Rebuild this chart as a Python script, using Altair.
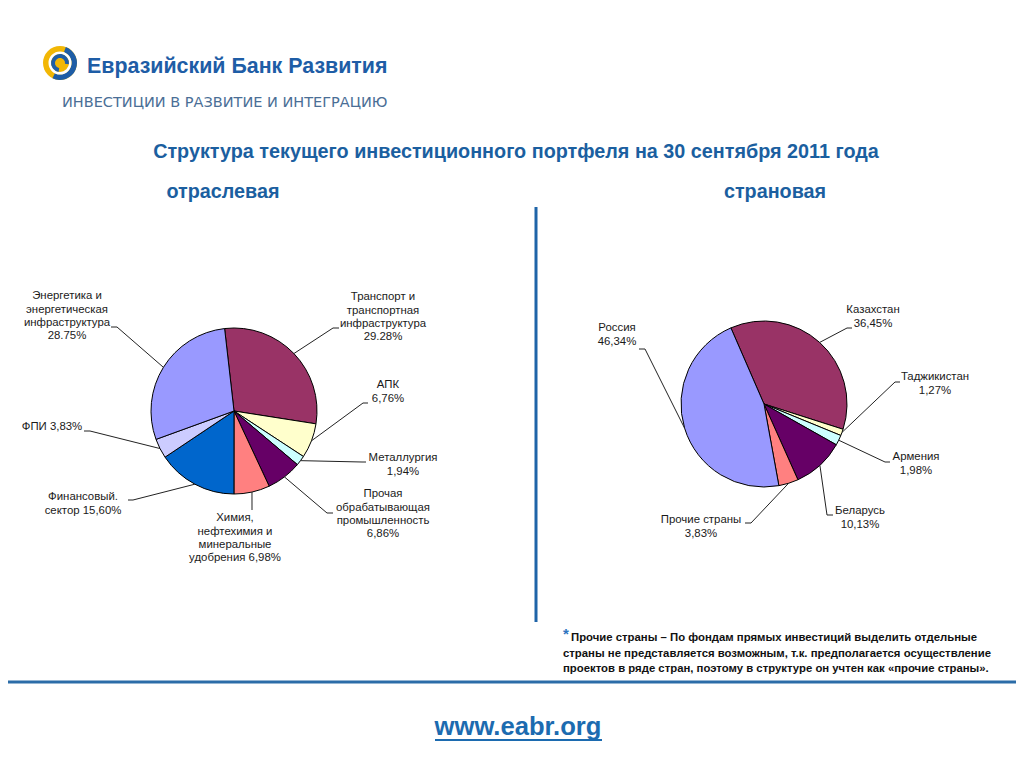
import altair as alt
import pandas as pd
import numpy as np

# ---------------- data ----------------
sector_names = [
    "Транспорт и транспортная инфраструктура", "АПК", "Металлургия",
    "Прочая обрабатывающая промышленность",
    "Химия, нефтехимия и минеральные удобрения", "Финансовый сектор",
    "ФПИ", "Энергетика и энергетическая инфраструктура",
]
sector_values = [29.28, 6.76, 1.94, 6.86, 6.98, 15.60, 3.83, 28.75]
sector_labels = [
    "Транспорт и\nтранспортная\nинфраструктура\n29.28%",
    "АПК\n6,76%",
    "Металлургия\n1,94%",
    "Прочая\nобрабатывающая\nпромышленность\n6,86%",
    "Химия,\nнефтехимия и\nминеральные\nудобрения 6,98%",
    "Финансовый.\nсектор 15,60%",
    "ФПИ 3,83%",
    "Энергетика и\nэнергетическая\nинфраструктура\n28.75%",
]

country_names = ["Казахстан", "Таджикистан", "Армения", "Беларусь", "Прочие страны", "Россия"]
country_values = [36.45, 1.27, 1.98, 10.13, 3.83, 46.34]
country_labels = [
    "Казахстан\n36,45%", "Таджикистан\n1,27%", "Армения\n1,98%",
    "Беларусь\n10,13%", "Прочие страны\n3,83%", "Россия\n46,34%",
]

logo_name = "Евразийский Банк Развития"
logo_tagline = "ИНВЕСТИЦИИ В РАЗВИТИЕ И ИНТЕГРАЦИЮ"
title_text = "Структура текущего инвестиционного портфеля на 30 сентября 2011 года"
subtitles = ["отраслевая", "страновая"]
footnote_lines = [
    "Прочие страны –  По фондам прямых инвестиций выделить  отдельные",
    "страны не представляется возможным, т.к. предполагается осуществление",
    "проектов в ряде стран, поэтому в структуре он учтен как «прочие страны».",
]
url_text = "www.eabr.org"

# ---------------- styles / layout ----------------
sector_colors = ["#993366", "#FFFFCC", "#CCFFFF", "#660066", "#FF8080", "#0066CC", "#CCCCFF", "#9999FF"]
country_colors = ["#993366", "#FFFFCC", "#CCFFFF", "#660066", "#FF8080", "#9999FF"]
BLUE = "#1B5FA0"
FONT = "Liberation Sans"
M = 8                     # page margin
W, H = 1008, 745

left_pie = dict(cx=234, cy=411, r=83, start=-6.5)
right_pie = dict(cx=764, cy=404, r=83, start=-23.5)

# label anchor: text centre x, first-line centre y, leader dash start, dash end
sector_label_pos = [
    (383, 298, (339, 328), (333, 328)),
    (388, 386, (368, 403), (363, 403)),
    (403, 459, (366, 462), (362, 462)),
    (383, 495, (333, 513), (327, 513)),
    (235, 519, (252, 510), (252, 510)),
    (83, 498, (128, 500), (133, 500)),
    (52, 428, (84, 431), (90, 431)),
    (67, 297, (111, 327), (117, 327)),
]
country_label_pos = [
    (873, 311, (852, 328), (847, 328)),
    (935, 378, (900, 382), (895, 382)),
    (916, 458, (890, 462), (885, 462)),
    (860, 512, (833, 515), (827, 515)),
    (701, 521, (745, 523), (751, 523)),
    (617, 329, (639, 349), (645, 349)),
]
LINE_H = 13.3

xs = alt.Scale(domain=[M, M + W], range=[0, W])
ys = alt.Scale(domain=[M, M + H], range=[0, H])


def X(f):
    return alt.X(f, type="quantitative", scale=xs, axis=None)


def Y(f):
    return alt.Y(f, type="quantitative", scale=ys, axis=None)


def pie(names, values, colors, p):
    df = pd.DataFrame({"name": names, "value": values, "idx": range(len(names))})
    a0 = np.radians(p["start"])
    return alt.Chart(df).mark_arc(radius=p["r"], stroke="black", strokeWidth=1).encode(
        theta=alt.Theta("value:Q", stack=True,
                        scale=alt.Scale(domain=[0, 100], range=[a0, a0 + 2 * np.pi])),
        color=alt.Color("name:N", scale=alt.Scale(domain=names, range=colors), legend=None),
        order=alt.Order("idx:Q"),
        x=alt.value(p["cx"] - M),
        y=alt.value(p["cy"] - M),
    )


def leaders(values, pos, p):
    vals = np.array(values, dtype=float)
    mid = np.cumsum(vals) - vals / 2
    ang = np.radians(p["start"] + mid / 100 * 360)
    ex = p["cx"] + p["r"] * np.sin(ang)
    ey = p["cy"] - p["r"] * np.cos(ang)
    rows = []
    for i, (_, _, d0, d1) in enumerate(pos):
        rows.append(dict(x=d0[0], y=d0[1], x2=d1[0], y2=d1[1]))
        rows.append(dict(x=d1[0], y=d1[1], x2=float(ex[i]), y2=float(ey[i])))
    return rows


def label_rows(labels, pos):
    rows = []
    for lab, (tx, ty, _, _) in zip(labels, pos):
        rows.append(dict(x=tx, y=ty - 6.7, text=lab))
    return rows


seg_df = pd.DataFrame(leaders(sector_values, sector_label_pos, left_pie) +
                      leaders(country_values, country_label_pos, right_pie))
lab_df = pd.DataFrame(label_rows(sector_labels, sector_label_pos) +
                      label_rows(country_labels, country_label_pos))

leader_layer = alt.Chart(seg_df).mark_rule(color="#222222", strokeWidth=1).encode(
    x=X("x"), y=Y("y"), x2="x2", y2="y2")
label_layer = alt.Chart(lab_df).mark_text(
    font=FONT, fontSize=11.4, color="#1a1a1a", align="center", baseline="top",
    lineBreak="\n", lineHeight=LINE_H).encode(x=X("x"), y=Y("y"), text="text:N")

# headings
head_df = pd.DataFrame({"x": [516, 223, 775], "y": [152, 192, 192],
                        "text": [title_text] + subtitles})
head_layer = alt.Chart(head_df).mark_text(
    font=FONT, fontSize=19.8, fontWeight="bold", color=BLUE, align="center",
    baseline="middle").encode(x=X("x"), y=Y("y"), text="text:N")

logo_df = pd.DataFrame({"x": [87], "y": [67], "text": [logo_name]})
logo_layer = alt.Chart(logo_df).mark_text(
    font=FONT, fontSize=21.4, fontWeight="bold", color="#1E5DA6", align="left",
    baseline="middle").encode(x=X("x"), y=Y("y"), text="text:N")

tag_df = pd.DataFrame({"x": [62], "y": [103], "text": [logo_tagline]})
tag_layer = alt.Chart(tag_df).mark_text(
    font="DejaVu Sans", fontSize=14.5, color="#4A6E96", align="left",
    baseline="middle").encode(x=X("x"), y=Y("y"), text="text:N")

# logo swirl
LX, LY = 60 - M, 63 - M
one = pd.DataFrame({"a": [0]})
swirl = [
    alt.Chart(one).mark_arc(radius=17, theta=0, theta2=2 * np.pi, color="#F2B705").encode(x=alt.value(LX), y=alt.value(LY)),
    alt.Chart(one).mark_arc(radius=17, radius2=11.5, theta=0.35, theta2=3.6, color="#1E5DA6").encode(x=alt.value(LX), y=alt.value(LY)),
    alt.Chart(one).mark_arc(radius=11.5, radius2=9, theta=0, theta2=2 * np.pi, color="#FFFFFF").encode(x=alt.value(LX), y=alt.value(LY)),
    alt.Chart(one).mark_arc(radius=9, radius2=5, theta=3.3, theta2=8.0, color="#1E5DA6").encode(x=alt.value(LX), y=alt.value(LY)),
    alt.Chart(one).mark_arc(radius=4.5, theta=0, theta2=2 * np.pi, color="#F2B705").encode(x=alt.value(LX), y=alt.value(LY)),
]

# divider lines
vline = alt.Chart(one).mark_rule(color="#1F64A8", strokeWidth=3).encode(
    x=alt.value(536 - M), y=alt.value(207 - M), y2=alt.value(622 - M))
hline = alt.Chart(one).mark_rule(color="#2B6CA8", strokeWidth=3).encode(
    x=alt.value(0), x2=alt.value(W), y=alt.value(682 - M))

# footnote
foot_df = pd.DataFrame({"x": [571, 563, 563], "y": [638, 654, 669], "text": footnote_lines})
foot_layer = alt.Chart(foot_df).mark_text(
    font=FONT, fontSize=11.35, fontWeight="bold", color="#111111", align="left",
    baseline="middle").encode(x=X("x"), y=Y("y"), text="text:N")
star_df = pd.DataFrame({"x": [566], "y": [634], "text": ["*"]})
star_layer = alt.Chart(star_df).mark_text(
    font=FONT, fontSize=15, fontWeight="bold", color="#2E75C0", align="center",
    baseline="middle").encode(x=X("x"), y=Y("y"), text="text:N")

# url
url_df = pd.DataFrame({"x": [518], "y": [727], "text": [url_text]})
url_layer = alt.Chart(url_df).mark_text(
    font=FONT, fontSize=25.6, fontWeight="bold", color="#1C6BB0", align="center",
    baseline="middle").encode(x=X("x"), y=Y("y"), text="text:N")
url_line = alt.Chart(one).mark_rule(color="#1C6BB0", strokeWidth=2).encode(
    x=alt.value(435 - M), x2=alt.value(602 - M), y=alt.value(740 - M))

chart = alt.layer(
    pie(sector_names, sector_values, sector_colors, left_pie),
    pie(country_names, country_values, country_colors, right_pie),
    leader_layer, label_layer, head_layer, logo_layer, tag_layer,
    *swirl, vline, hline, foot_layer, star_layer, url_layer, url_line,
).resolve_scale(color="independent", theta="independent").properties(
    width=W, height=H, padding=0, autosize=alt.AutoSizeParams(type="none"),
    background="white",
).configure_view(strokeWidth=0)

chart.save("out.html", embed_options={"renderer": "svg", "actions": False})
